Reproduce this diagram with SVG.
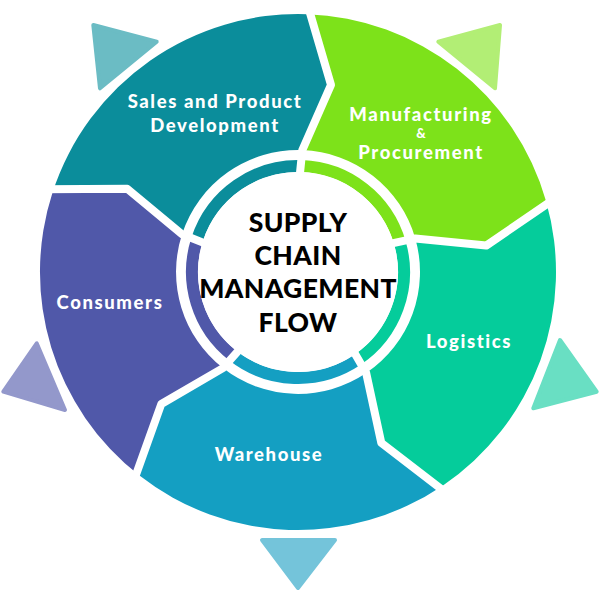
<svg xmlns="http://www.w3.org/2000/svg" width="600" height="600" viewBox="0 0 600 600">
<style>
.lbl{font-family:Lato,"Open Sans",sans-serif;font-weight:900;font-size:18.5px;fill:#fff;text-anchor:middle;letter-spacing:1.6px}
.amp{font-size:13px;letter-spacing:0}
.ctr{font-family:Lato,"Open Sans",sans-serif;font-weight:900;font-size:26.5px;fill:#000;text-anchor:middle;letter-spacing:0.4px}
.sep{fill:none;stroke:#fff;stroke-width:8;stroke-linejoin:round}
.ring{fill:none;stroke-width:12}
.tri{stroke-width:4;stroke-linejoin:round}
</style>
<rect width="600" height="600" fill="#fff"/>
<g id="triangles">
<polygon class="tri" points="93.3,25 156.7,41.7 100,88.3" fill="#6BBCC4" stroke="#6BBCC4"/>
<polygon class="tri" points="438.3,41.7 500,25 495,88.3" fill="#B2EE75" stroke="#B2EE75"/>
<polygon class="tri" points="560,340 596.7,391.7 533.3,408.3" fill="#69DFC3" stroke="#69DFC3"/>
<polygon class="tri" points="262,540 335,540 298,588" fill="#74C4DA" stroke="#74C4DA"/>
<polygon class="tri" points="36.7,343.3 3.3,391.7 65,410" fill="#9398CB" stroke="#9398CB"/>
</g>
<g id="sales">
<path d="M52.6,192.3 A258,258 0 0 1 307.0,14.2 L331.0,84.9 L302.3,150.1 A122,122 0 0 0 182.0,234.3 L127.2,188.7 Z" fill="#0B8D9B"/>
<path class="ring" d="M197.2,239.2 A106,106 0 0 1 301.7,166.1" stroke="#0B8D9B"/>
<text class="lbl" x="215" y="108">Sales and Product</text>
<text class="lbl" x="215" y="132">Development</text>
</g>
<g id="manufacturing">
<path d="M307.0,14.2 A258,258 0 0 1 546.0,200.9 L486.2,245.6 L415.3,238.4 A122,122 0 0 0 302.3,150.1 L331.0,84.9 Z" fill="#7DE21A"/>
<path class="ring" d="M301.7,166.1 A106,106 0 0 1 399.9,242.8" stroke="#7DE21A"/>
<text class="lbl" x="421" y="121">Manufacturing</text>
<text class="lbl amp" x="421" y="138">&amp;</text>
<text class="lbl" x="421" y="159">Procurement</text>
</g>
<g id="logistics">
<path d="M546.0,200.9 A258,258 0 0 1 442.3,485.9 L381.3,442.8 L366.2,373.1 A122,122 0 0 0 415.3,238.4 L486.2,245.6 Z" fill="#05CC9B"/>
<path class="ring" d="M399.9,242.8 A106,106 0 0 1 357.3,359.9" stroke="#05CC9B"/>
<text class="lbl" x="469" y="348">Logistics</text>
</g>
<g id="warehouse">
<path d="M442.3,485.9 A258,258 0 0 1 139.1,475.3 L161.3,404.0 L222.9,368.1 A122,122 0 0 0 366.2,373.1 L381.3,442.8 Z" fill="#149FC2"/>
<path class="ring" d="M357.3,359.9 A106,106 0 0 1 232.7,355.5" stroke="#149FC2"/>
<text class="lbl" x="269" y="461">Warehouse</text>
</g>
<g id="consumers">
<path d="M139.1,475.3 A258,258 0 0 1 52.6,192.3 L127.2,188.7 L182.0,234.3 A122,122 0 0 0 222.9,368.1 L161.3,404.0 Z" fill="#5058A9"/>
<path class="ring" d="M232.7,355.5 A106,106 0 0 1 197.2,239.2" stroke="#5058A9"/>
<text class="lbl" x="110" y="309">Consumers</text>
</g>
<g id="connectors">
<polyline class="sep" points="307.4,4.2 331.0,84.9 302.3,150.1 299.7,176.0"/>
<polyline class="sep" points="555.6,198.1 486.2,245.6 415.3,238.4 389.8,243.9"/>
<polyline class="sep" points="447.9,494.2 381.3,442.8 366.2,373.1 353.1,350.6"/>
<polyline class="sep" points="133.0,483.2 161.3,404.0 222.9,368.1 240.2,348.7"/>
<polyline class="sep" points="43.1,189.2 127.2,188.7 182.0,234.3 206.2,243.9"/>
</g>
<g id="center">
<circle cx="298" cy="272" r="100" fill="#fff"/>
<text class="ctr" x="298" y="232">SUPPLY</text>
<text class="ctr" x="298" y="265">CHAIN</text>
<text class="ctr" x="298" y="298">MANAGEMENT</text>
<text class="ctr" x="298" y="332">FLOW</text>
</g>
</svg>
